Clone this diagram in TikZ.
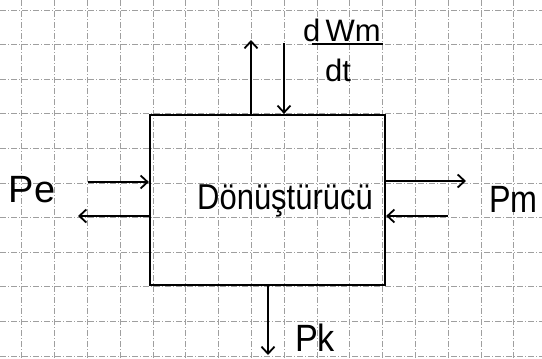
\documentclass[tikz,border=0pt]{standalone}
\usepackage{fontspec}
\setmainfont{Liberation Sans}
\usetikzlibrary{arrows.meta}
\begin{document}
\begin{tikzpicture}[x=1pt,y=-1pt,
 gridline/.style={gray!75, dash pattern=on 6pt off 2pt on 1pt off 2pt, line width=0.7pt},
 flow/.style={line width=2.2pt, -{Straight Barb[length=7pt,width=13pt,line width=1.8pt]}},
 lbl/.style={font=\fontsize{38}{40}\selectfont, inner sep=0pt},
 mid/.style={font=\fontsize{36}{38}\selectfont, inner sep=0pt},
 frs/.style={font=\fontsize{31}{33}\selectfont, inner sep=0pt}]
\fill[white] (0,0) rectangle (542,359);
\useasboundingbox (0,0) rectangle (542,359);
\foreach \i in {0,...,15} \draw[gridline] ({21.7+32.8*\i},0) -- ({21.7+32.8*\i},359);
\foreach \j in {0,...,10} \draw[gridline] (0,{10+34.6*\j}) -- (542,{10+34.6*\j});
% box
\node[draw, line width=2.2pt, minimum width=235pt, minimum height=170pt, inner sep=0pt] (conv) at (267.5,200) {};
\node[mid] (name) at (285,201) {\scalebox{0.86}[1]{Dönüştürücü}};
% free ends
\coordinate (pein) at (88,182);
\coordinate (peout) at (78,216);
\coordinate (pmout) at (466,181);
\coordinate (pmin) at (448,216);
\coordinate (up) at (251,40);
\coordinate (dn) at (284,43);
\coordinate (pk) at (268,355);
% connectors
\draw[flow] (pein) -- (pein -| conv.west);
\draw[flow] (peout -| conv.west) -- (peout);
\draw[flow] (pmout -| conv.east) -- (pmout);
\draw[flow] (pmin) -- (pmin -| conv.east);
\draw[flow] (up |- conv.north) -- (up);
\draw[flow] (dn) -- (dn |- conv.north);
\draw[flow] (pk |- conv.south) -- (pk);
% labels
\node[lbl] (pe) at (32,190) {Pe};
\node[lbl, anchor=west] (pm) at (489,199) {\scalebox{0.85}[1]{Pm}};
\node[lbl] (pkl) at (315,338) {\scalebox{0.9}[1]{Pk}};
\node[frs, anchor=south west] (num) at (303,42) {d\,Wm};
\node[frs] (den) at (338,70) {dt};
\coordinate (fl) at (312,44);
\coordinate (fr) at (383,44);
\draw[line width=2.2pt] (fl) -- (fr);
\end{tikzpicture}
\end{document}
